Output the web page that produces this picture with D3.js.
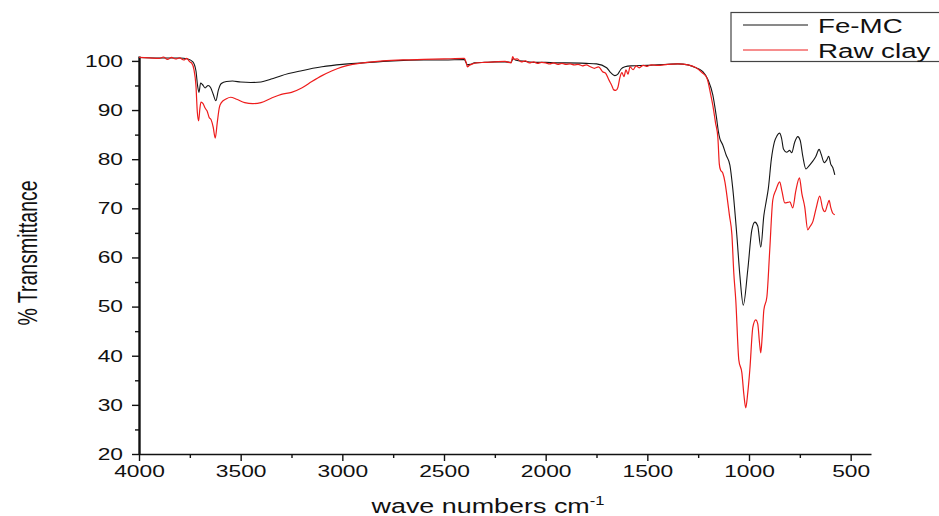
<!DOCTYPE html>
<html>
<head>
<meta charset="utf-8">
<script src="https://cdn.jsdelivr.net/npm/d3@7"></script>
<style>
  body { margin: 0; background: #fff; }
  text { font-family: "Liberation Sans", Arial, sans-serif; fill: #111; }
</style>
</head>
<body>
<div id="chart"></div>
<script>
// FTIR spectra (wavenumber cm-1, % transmittance)
var feWave = [4000, 3900, 3800, 3760, 3735, 3720, 3712, 3705, 3697, 3688, 3675, 3660, 3648, 3635, 3622, 3610, 3595, 3570, 3540, 3500, 3450, 3400, 3350, 3300, 3200, 3100, 3000, 2900, 2800, 2700, 2600, 2500, 2400, 2392, 2385, 2370, 2350, 2300, 2250, 2200, 2170, 2160, 2150, 2100, 2050, 2000, 1950, 1900, 1800, 1750, 1700, 1680, 1660, 1645, 1630, 1610, 1580, 1500, 1450, 1400, 1350, 1300, 1260, 1240, 1227, 1200, 1178, 1160, 1150, 1144, 1129, 1112, 1094, 1080, 1060, 1045, 1028, 1006, 986, 971, 957, 942, 927, 915, 905, 890, 875, 862, 850, 840, 830, 815, 800, 790, 775, 760, 748, 735, 720, 708, 690, 672, 655, 645, 630, 618, 608, 598, 588, 578];
var feT = [100.7, 100.6, 100.6, 100.4, 99.8, 98, 95, 93.6, 95.5, 95.2, 94.5, 95.0, 94.6, 93.2, 91.9, 94.0, 95.4, 95.8, 95.9, 95.7, 95.6, 95.7, 96.3, 97.0, 98.0, 98.8, 99.3, 99.6, 99.9, 100.1, 100.2, 100.2, 100.3, 99.7, 99.2, 99.3, 99.6, 99.7, 99.8, 99.8, 99.7, 100.5, 100.2, 99.9, 99.7, 99.7, 99.6, 99.6, 99.5, 99.4, 98.6, 97.6, 97.0, 97.3, 98.3, 98.8, 99.0, 99.1, 99.2, 99.3, 99.4, 99.2, 98.6, 98.2, 97.8, 96.0, 93.1, 88.5, 85.5, 84.3, 82.9, 80.8, 78.8, 74.1, 64.6, 56.4, 50.3, 57.5, 65.6, 67.2, 66.4, 62.1, 68.5, 71.5, 74, 80, 83.5, 84.8, 85.3, 84.3, 82, 81.4, 81.8, 81.3, 83.5, 84.6, 83.8, 80.5, 78, 78.5, 79.4, 80.5, 82, 81, 79.3, 79.8, 80.6, 79.0, 78.3, 76.8];

var rawWave = [4000, 3950, 3900, 3880, 3860, 3840, 3820, 3800, 3780, 3765, 3750, 3740, 3730, 3720, 3713, 3707, 3700, 3695, 3685, 3675, 3665, 3655, 3645, 3635, 3625, 3615, 3605, 3595, 3570, 3550, 3520, 3480, 3440, 3400, 3350, 3300, 3250, 3200, 3150, 3100, 3050, 3000, 2950, 2900, 2800, 2700, 2600, 2500, 2400, 2392, 2385, 2375, 2360, 2340, 2300, 2250, 2200, 2170, 2162, 2155, 2140, 2120, 2100, 2080, 2060, 2040, 2020, 2000, 1980, 1960, 1940, 1920, 1900, 1880, 1860, 1840, 1820, 1800, 1780, 1760, 1740, 1720, 1705, 1690, 1675, 1665, 1655, 1645, 1635, 1625, 1615, 1605, 1595, 1585, 1570, 1555, 1540, 1520, 1500, 1480, 1450, 1400, 1350, 1300, 1260, 1230, 1207, 1190, 1178, 1165, 1153, 1146, 1140, 1129, 1118, 1109, 1096, 1084, 1075, 1065, 1050, 1035, 1025, 1016, 1006, 996, 981, 967, 957, 948, 942, 935, 927, 912, 898, 883, 868, 849, 838, 824, 810, 799, 785, 770, 752, 740, 726, 711, 700, 686, 670, 652, 638, 627, 614, 606, 598, 588, 578];
var rawT = [100.7, 100.6, 100.5, 100.8, 100.3, 100.7, 100.4, 100.6, 100.2, 100.5, 99.8, 99.5, 98.3, 95, 89.5, 87.8, 90.5, 91.6, 91.3, 90.4, 89.8, 88.5, 88.0, 86.5, 84.3, 87.5, 90.5, 91.5, 92.3, 92.6, 92.2, 91.5, 91.3, 91.5, 92.4, 93.2, 93.6, 94.5, 95.8, 97.0, 98.0, 98.8, 99.3, 99.6, 100.0, 100.2, 100.3, 100.4, 100.5, 99.8, 98.8, 99.1, 99.4, 99.6, 99.7, 99.8, 99.9, 99.6, 100.9, 100.3, 100.4, 99.8, 100.0, 99.6, 99.8, 99.5, 99.7, 99.6, 99.4, 99.6, 99.3, 99.5, 99.3, 99.4, 99.2, 99.3, 99.0, 99.2, 98.8, 98.5, 98.8, 97.8, 97.5, 96.2, 95.0, 94.1, 94.0, 94.6, 96.6, 97.6, 96.8, 98.2, 97.3, 98.8, 98.2, 99.0, 98.6, 99.1, 98.9, 99.2, 99.1, 99.3, 99.4, 99.2, 98.6, 97.6, 96.5, 93.5, 91, 87.5, 84.3, 79, 77.8, 77.2, 75.3, 72.7, 68.5, 64.6, 57, 51.3, 39.1, 36.5, 32, 29.4, 32.5, 37.1, 45.8, 47.3, 46.5, 42.5, 40.6, 44, 49.3, 52, 61.5, 71.7, 73.7, 75.4, 73.5, 71.1, 71.2, 71.3, 70.1, 73.5, 76.2, 73, 70.3, 65.6, 66.3, 67.3, 70, 72.5, 70, 69.3, 70.8, 71.6, 70.2, 69, 68.7];

var seriesNames = ["Fe-MC", "Raw clay"];
var seriesColors = ["#151515", "#ee1c1c"];
var xTicks = [4000, 3500, 3000, 2500, 2000, 1500, 1000, 500];
var yTicks = [20, 30, 40, 50, 60, 70, 80, 90, 100];

var svgWidth = 939;
var svgHeight = 516;
var stretch = 1.38; // the figure's text is wide, like a stretched image

var svg = d3.select("#chart").append("svg")
  .attr("width", svgWidth)
  .attr("height", svgHeight);

var x = d3.scaleLinear().domain([4000, 400]).range([139, 871]);
var y = d3.scaleLinear().domain([20, 101]).range([454, 56]);

// x axis, major + minor ticks
var xAxis = svg.append("g")
  .attr("transform", "translate(0,454)")
  .call(d3.axisBottom(x).tickValues(xTicks).tickFormat(d3.format("d")).tickSize(7).tickSizeOuter(0).tickPadding(4));
svg.append("g")
  .attr("transform", "translate(0,454)")
  .call(d3.axisBottom(x).tickValues(d3.range(750, 4000, 500)).tickSize(4).tickFormat(""))
  .select(".domain").remove();

// y axis
var yAxis = svg.append("g")
  .attr("transform", "translate(139,0)")
  .call(d3.axisLeft(y).tickValues(yTicks).tickFormat(d3.format("d")).tickSize(7).tickSizeOuter(0).tickPadding(9));
svg.append("g")
  .attr("transform", "translate(139,0)")
  .call(d3.axisLeft(y).tickValues(d3.range(25, 100, 10)).tickSize(4).tickFormat(""))
  .select(".domain").remove();

xAxis.select(".domain").attr("stroke-width", 1.6).attr("stroke", "#111");
yAxis.select(".domain").attr("stroke-width", 2.4).attr("stroke", "#111");
svg.selectAll(".tick line").attr("stroke", "#111").attr("stroke-width", 1.4);

xAxis.selectAll("text")
  .attr("font-size", 16.5)
  .attr("transform", "scale(" + stretch + ",1)");
yAxis.selectAll("text")
  .attr("font-size", 16.5)
  .attr("x", -16 / stretch)
  .attr("transform", "scale(" + stretch + ",1)");
svg.selectAll(".tick text").style("font-family", "'Liberation Sans', Arial, sans-serif").attr("fill", "#111");

// spectra
var line = d3.line()
  .x(function(d) { return x(d[0]); })
  .y(function(d) { return y(d[1]); })
  .curve(d3.curveMonotoneX);

var feData = d3.zip(feWave, feT);
var rawData = d3.zip(rawWave, rawT);

svg.append("path")
  .datum(feData)
  .attr("d", line)
  .attr("fill", "none")
  .attr("stroke", seriesColors[0])
  .attr("stroke-width", 1.1);

svg.append("path")
  .datum(rawData)
  .attr("d", line)
  .attr("fill", "none")
  .attr("stroke", seriesColors[1])
  .attr("stroke-width", 1.2);

// axis titles
svg.append("text")
  .attr("transform", "translate(37,253) scale(" + stretch + ",1) rotate(-90)")
  .attr("text-anchor", "middle")
  .attr("font-size", 19.5)
  .text("% Transmittance");

var xTitle = svg.append("text")
  .attr("transform", "translate(488,513) scale(" + stretch + ",1)")
  .attr("text-anchor", "middle")
  .attr("font-size", 19.5);
xTitle.append("tspan").text("wave numbers cm");
xTitle.append("tspan").attr("font-size", 12).attr("dy", -8).text("-1");

// legend
var legend = svg.append("g");
legend.append("rect")
  .attr("x", 731).attr("y", 12.5)
  .attr("width", 240).attr("height", 49)
  .attr("fill", "#fff")
  .attr("stroke", "#444")
  .attr("stroke-width", 1.2);

seriesNames.forEach(function(name, i) {
  var ly = 25 + i * 25;
  legend.append("line")
    .attr("x1", 743).attr("x2", 808)
    .attr("y1", ly).attr("y2", ly)
    .attr("stroke", seriesColors[i])
    .attr("stroke-width", 1);
  legend.append("text")
    .attr("transform", "translate(818," + (ly + 8) + ") scale(1.32,1)")
    .attr("font-size", 21)
    .text(name);
});
</script>
</body>
</html>
